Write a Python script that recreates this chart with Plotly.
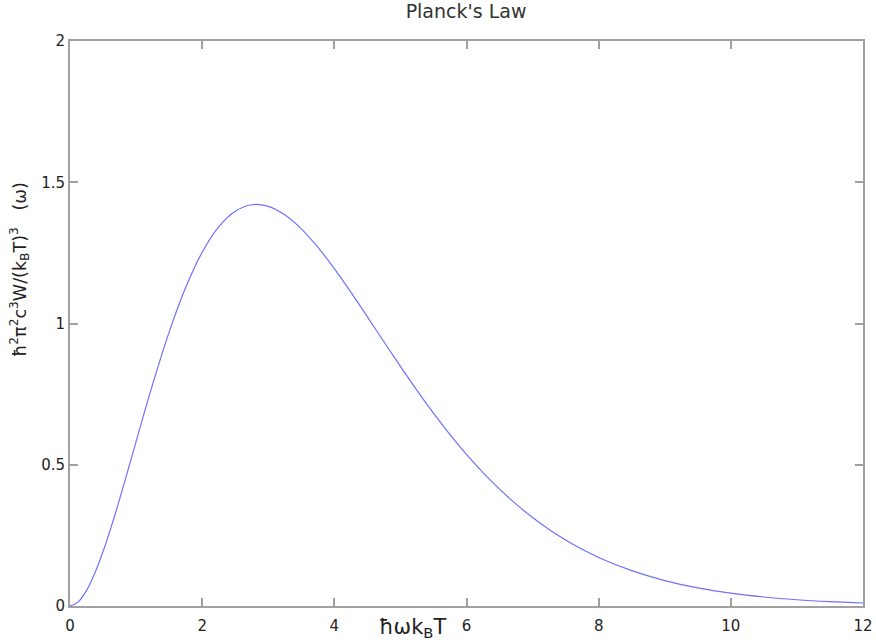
import plotly.graph_objects as go

# x = ħω/(k_B T), y = ħ²π²c³W/(k_B T)³
x_vals = [0, 0.125, 0.25, 0.375, 0.5, 0.625, 0.75, 0.875, 1.0, 1.25, 1.5, 1.75,
          2.0, 2.25, 2.5, 2.75, 3.0, 3.25, 3.5, 3.75, 4.0, 4.25, 4.5, 4.75, 5.0,
          5.25, 5.5, 5.75, 6.0, 6.25, 6.5, 6.75, 7.0, 7.25, 7.5, 7.75, 8.0,
          8.5, 9.0, 9.5, 10.0, 10.5, 11.0, 11.5, 12.0]
y_vals = [0, 0.0147, 0.0550, 0.1159, 0.1927, 0.2812, 0.3777, 0.4789, 0.5820,
          0.7843, 0.9694, 1.1272, 1.2522, 1.3420, 1.3973, 1.4203, 1.4147,
          1.3847, 1.3350, 1.2701, 1.1941, 1.1109, 1.0237, 0.9353, 0.8480,
          0.7633, 0.6827, 0.6070, 0.5367, 0.4722, 0.4135, 0.3605, 0.3131,
          0.2708, 0.2335, 0.2006, 0.1718,
          0.1250, 0.0900, 0.0642, 0.0454, 0.0319, 0.0222, 0.0154, 0.0106]

x_ticks = [0, 2, 4, 6, 8, 10, 12]
y_ticks = [0, 0.5, 1, 1.5, 2]
y_tick_text = ["0", "0.5", "1", "1.5", "2"]

fig = go.Figure()
fig.add_trace(go.Scatter(x=x_vals, y=y_vals, mode="lines",
                         line=dict(color="#7070ff", width=1.2, shape="spline", smoothing=1.0),
                         showlegend=False, hoverinfo="skip"))

axis_common = dict(showgrid=False, zeroline=False, showline=True, linecolor="#a0a0a0",
                   linewidth=2, mirror="ticks", ticks="inside", ticklen=8,
                   tickcolor="#a0a0a0", tickwidth=1.5, automargin=False,
                   tickfont=dict(family="DejaVu Sans", size=15, color="#222222"))

fig.update_xaxes(range=[0, 12], tickvals=x_ticks, ticktext=[str(v) for v in x_ticks],
                 ticklabelstandoff=5, **axis_common)
fig.update_yaxes(range=[0, 2], tickvals=y_ticks, ticktext=y_tick_text, **axis_common)

fig.update_layout(
    width=876, height=644,
    margin=dict(l=70, r=13, t=41, b=38, autoexpand=False),
    plot_bgcolor="white", paper_bgcolor="white",
    title=dict(text="Planck's Law", x=0.532, xanchor="center", y=0.982, yanchor="middle",
               font=dict(family="DejaVu Sans", size=19, color="#333333")),
    annotations=[
        dict(text="ħωk<sub>B</sub>T", xref="paper", yref="paper", x=0.4325, y=-0.012,
             xanchor="center", yanchor="top", showarrow=False,
             font=dict(family="DejaVu Sans", size=21, color="#222222")),
        dict(text="ħ<sup>2</sup>π<sup>2</sup>c<sup>3</sup>W/(k<sub>B</sub>T)<sup>3</sup>   (ω)",
             xref="paper", yref="paper", x=-0.063, y=0.595, textangle=-90,
             xanchor="center", yanchor="middle", showarrow=False,
             font=dict(family="DejaVu Sans", size=17.5, color="#222222")),
    ],
)

# remove the default 8px page margin so the figure fills the window exactly
fig.write_html("out.html", config={"displayModeBar": False},
               post_script="document.body.style.margin='0px';")
